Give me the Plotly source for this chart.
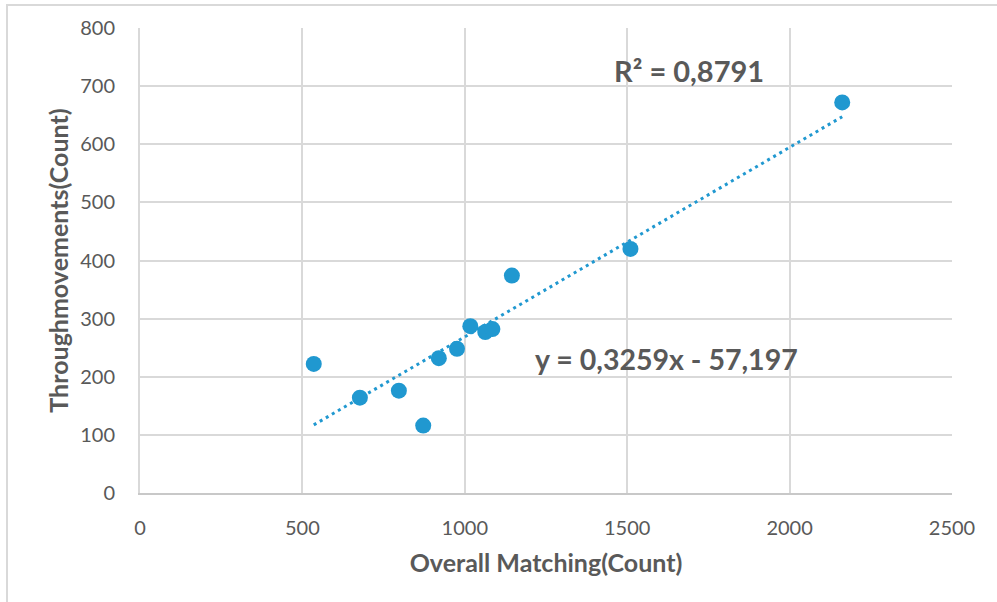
import plotly.graph_objects as go

# Data
overall_matching = [535, 677, 797, 872, 920, 976, 1017, 1063, 1085, 1145, 1510, 2162]
through_movements = [222, 164, 176, 116, 232, 248, 287, 277, 282, 374, 420, 672]

slope = 0.3259
intercept = -57.197
r2_text = "R² = 0,8791"
eq_text = "y = 0,3259x - 57,197"

x_ticks = [0, 500, 1000, 1500, 2000, 2500]
y_ticks = [0, 100, 200, 300, 400, 500, 600, 700, 800]

trend_x = [min(overall_matching), max(overall_matching)]
trend_y = [slope * v + intercept for v in trend_x]

FONT = "Lato"
GRAY = "#595959"
BLUE = "#2098D0"

fig = go.Figure()
fig.add_trace(go.Scatter(
    x=trend_x, y=trend_y, mode="lines",
    line=dict(color=BLUE, width=3, dash="3px,4px"),
    hoverinfo="skip", showlegend=False,
))
fig.add_trace(go.Scatter(
    x=overall_matching, y=through_movements, mode="markers",
    marker=dict(color=BLUE, size=16, line=dict(width=0)),
    showlegend=False,
))

fig.update_layout(
    width=997, height=602,
    margin=dict(l=140, r=45, t=28, b=109),
    paper_bgcolor="white", plot_bgcolor="white",
    font=dict(family=FONT, color=GRAY, size=20),
    xaxis=dict(
        range=[0, 2500], tickvals=x_ticks, showgrid=True, gridcolor="#d9d9d9", gridwidth=2,
        showline=True, linecolor="#c8c8c8", linewidth=2, zeroline=False,
        ticks="", ticklabelstandoff=16, tickfont=dict(size=20, color=GRAY, family=FONT),
        title=dict(text="<b>Overall Matching(Count)</b>", font=dict(size=25, color=GRAY, family=FONT), standoff=16),
    ),
    yaxis=dict(
        range=[0, 800], tickvals=y_ticks, showgrid=True, gridcolor="#d9d9d9", gridwidth=2,
        showline=True, linecolor="#d9d9d9", linewidth=2, zeroline=False,
        ticks="", ticklabelstandoff=19, tickfont=dict(size=20, color=GRAY, family=FONT),
        title=dict(text="<b>Throughmovements(Count)</b>", font=dict(size=25, color=GRAY, family=FONT), standoff=4),
    ),
    annotations=[
        dict(x=1453, y=727, xref="x", yref="y", text="<b>" + r2_text + "</b>",
             showarrow=False, xanchor="left", yanchor="middle",
             font=dict(size=29, color=GRAY, family=FONT)),
        dict(x=1210, y=230, xref="x", yref="y", text="<b>" + eq_text + "</b>",
             showarrow=False, xanchor="left", yanchor="middle",
             font=dict(size=28.5, color=GRAY, family=FONT)),
    ],
    shapes=[
        dict(type="rect", xref="paper", yref="paper",
             x0=(7 - 140) / 812, x1=(1010 - 140) / 812,
             y0=(493 - 610) / 465, y1=(493 - 5) / 465,
             line=dict(color="#d9d9d9", width=2), fillcolor="rgba(0,0,0,0)", layer="below"),
    ],
)

fig.write_html("out.html")
